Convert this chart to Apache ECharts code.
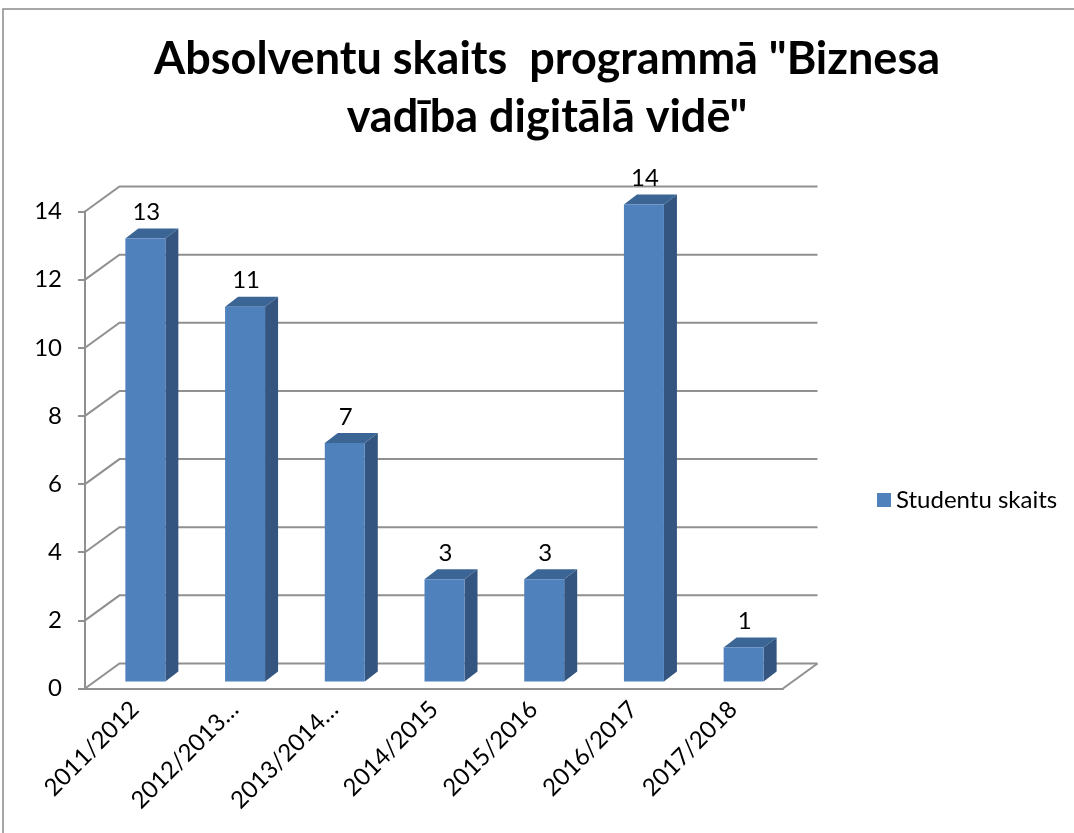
<!DOCTYPE html>
<html>
<head>
<meta charset="utf-8">
<script src="https://cdn.jsdelivr.net/npm/echarts@6/dist/echarts.min.js"></script>
<style>
html,body{margin:0;padding:0;background:#fff;}
#chart{width:1074px;height:833px;}
</style>
</head>
<body>
<div id="chart"></div>
<script>
const categories = ['2011/2012', '2012/2013…', '2013/2014…', '2014/2015', '2015/2016', '2016/2017', '2017/2018'];
const values = [13, 11, 7, 3, 3, 14, 1];
const yTicks = [0, 2, 4, 6, 8, 10, 12, 14];
const seriesName = 'Studentu skaits';
const titleLines = ['Absolventu skaits  programmā "Biznesa', 'vadība digitālā vidē"'];

const FONT = 'Lato, "Open Sans", sans-serif';
const WALL_DX = 34.5, WALL_DY = -25;
const BAR_DX = 10.5, BAR_DY = -7;
const BAR_W = 40, DEPTH_X = 13, DEPTH_Y = -10;
const LINE = '#909090';

const chart = echarts.init(document.getElementById('chart'), null, {renderer: 'canvas'});

const option = {
  animation: false,
  backgroundColor: '#fff',
  textStyle: {fontFamily: FONT},
  graphic: [
    {type: 'rect', shape: {x: 3, y: 9, width: 1200, height: 1000}, style: {fill: 'none', stroke: '#8a8a8a', lineWidth: 1.5}, z: -10, silent: true},
    {type: 'text', x: 547, y: 30, style: {text: titleLines.join('\n'), font: 'bold 45px ' + FONT, fill: '#000', align: 'center', verticalAlign: 'top', lineHeight: 58}}
  ],
  legend: {
    data: [seriesName],
    left: 872, top: 483,
    icon: 'rect', itemWidth: 14, itemHeight: 14, itemGap: 6,
    textStyle: {fontSize: 24, color: '#000', fontFamily: FONT}
  },
  grid: {left: 85, top: 211.5, width: 698, height: 477, containLabel: false},
  xAxis: {
    type: 'category',
    data: categories,
    axisLine: {lineStyle: {color: LINE, width: 2}},
    axisTick: {lineStyle: {color: LINE, width: 2}, length: 8},
    axisLabel: {rotate: 45, interval: 0, fontSize: 24, color: '#000', margin: 17, fontFamily: FONT},
    splitLine: {show: false}
  },
  yAxis: {
    type: 'value', min: 0, max: 14, interval: 2,
    axisLine: {show: true, lineStyle: {color: LINE, width: 2}},
    axisTick: {show: true, lineStyle: {color: LINE, width: 2}, length: 7},
    axisLabel: {fontSize: 24, color: '#000', margin: 23, fontFamily: FONT},
    splitLine: {show: false}
  },
  series: [
    {
      type: 'custom',
      name: 'walls',
      silent: true,
      z: 1,
      data: yTicks.map(v => [0, v]),
      encode: {x: 0, y: 1},
      renderItem: function (params, api) {
        const cs = params.coordSys;
        const y = api.coord([0, api.value(1)])[1];
        const x0 = cs.x, x1 = cs.x + cs.width;
        const children = [{
          type: 'polyline',
          shape: {points: [[x0, y], [x0 + WALL_DX, y + WALL_DY], [x1 + WALL_DX, y + WALL_DY]]},
          style: {stroke: LINE, lineWidth: 2, fill: 'none'}
        }];
        if (api.value(1) === 0) {
          children.push({
            type: 'line',
            shape: {x1: x1, y1: y, x2: x1 + WALL_DX, y2: y + WALL_DY},
            style: {stroke: LINE, lineWidth: 2}
          });
        }
        return {type: 'group', children: children};
      }
    },
    {
      type: 'custom',
      name: seriesName,
      z: 3,
      itemStyle: {color: '#4F81BD'},
      data: values.map((v, i) => [i, v]),
      encode: {x: 0, y: 1},
      renderItem: function (params, api) {
        const top = api.coord([api.value(0), api.value(1)]);
        const base = api.coord([api.value(0), 0]);
        const cx = top[0] + BAR_DX;
        const xl = cx - BAR_W / 2, xr = cx + BAR_W / 2;
        const yt = top[1] + BAR_DY, yb = base[1] + BAR_DY;
        return {
          type: 'group',
          children: [
            {type: 'polygon', shape: {points: [[xr, yt], [xr + DEPTH_X, yt + DEPTH_Y], [xr + DEPTH_X, yb + DEPTH_Y], [xr, yb]]}, style: {fill: '#33557f'}},
            {type: 'polygon', shape: {points: [[xl, yt], [xl + DEPTH_X, yt + DEPTH_Y], [xr + DEPTH_X, yt + DEPTH_Y], [xr, yt]]}, style: {fill: '#3b6595'}},
            {type: 'rect', shape: {x: xl, y: yt, width: BAR_W, height: yb - yt}, style: {fill: '#4F81BD'}},
            {type: 'text', x: cx + 1, y: yt + DEPTH_Y - 4, style: {text: String(api.value(1)), font: '24px ' + FONT, fill: '#000', align: 'center', verticalAlign: 'bottom'}}
          ]
        };
      }
    }
  ]
};
chart.setOption(option);
</script>
</body>
</html>
